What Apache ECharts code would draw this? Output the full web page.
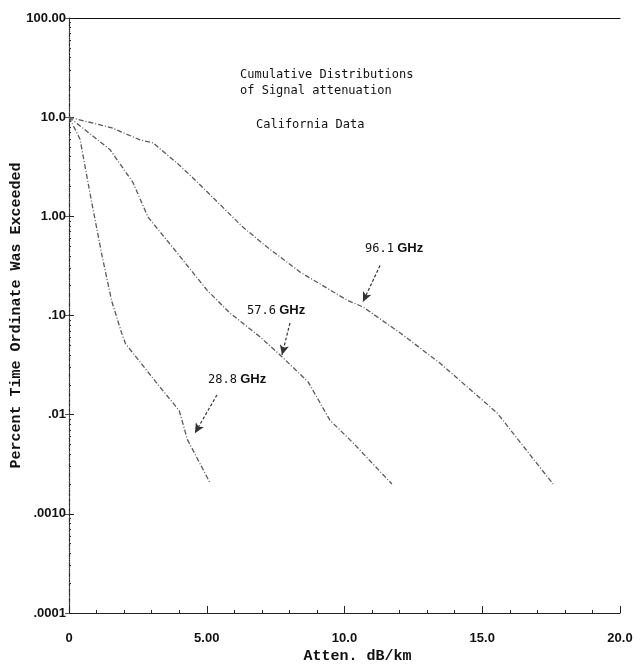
<!DOCTYPE html>
<html>
<head>
<meta charset="utf-8">
<title>Cumulative Distributions of Signal attenuation</title>
<script src="https://cdn.jsdelivr.net/npm/echarts@6/dist/echarts.min.js"></script>
<style>
  html, body { margin: 0; padding: 0; background: #fff; }
  #attenStat { width: 641px; height: 670px; }
</style>
</head>
<body>
<div id="attenStat"></div>
<script>
// 刻度标签
var xTickLabels = ['0', '5.00', '10.0', '15.0', '20.0'];
var yTickValues = [0.0001, 0.001, 0.01, 0.1, 1, 10, 100];
var yTickLabels = ['.0001', '.0010', '.01', '.10', '1.00', '10.0', '100.00'];

// 28.8 GHz
var atten288 = [0, 0.4, 0.8, 1.2, 1.55, 1.9, 2.05, 3.3, 4.0, 4.3, 5.1];
var pct288 = [10, 6, 1.5, 0.4, 0.14, 0.068, 0.052, 0.019, 0.011, 0.0056, 0.0021];

// 57.6 GHz
var atten576 = [0, 1.49, 2.32, 2.87, 3.92, 5.01, 5.84, 6.93, 7.66, 8.68, 9.47, 10.31, 11.72];
var pct576 = [10, 4.7, 2.2, 0.98, 0.43, 0.18, 0.106, 0.061, 0.040, 0.0214, 0.0088, 0.0052, 0.0020];

// 96.1 GHz
var atten961 = [0, 1.56, 2.58, 3.05, 3.92, 4.5, 6.31, 7.19, 8.38, 10.09, 10.67, 12.01, 13.47, 15.54, 17.57];
var pct961 = [10, 7.8, 5.9, 5.5, 3.45, 2.44, 0.78, 0.49, 0.275, 0.143, 0.122, 0.067, 0.033, 0.0104, 0.0020];

// 箭头 (起点, 终点)
var arrow961 = [[11.29, 0.32], [10.67, 0.137]];
var arrow576 = [[8.02, 0.084], [7.73, 0.040]];
var arrow288 = [[5.37, 0.0158], [4.57, 0.0065]];

function pairs(xs, ys) {
    return xs.map(function (x, i) { return [x, ys[i]]; });
}

function curve(name, xs, ys, arrow) {
    return {
        name: name,
        type: 'line',
        data: pairs(xs, ys),
        symbol: 'none',
        smooth: false,
        lineStyle: { color: '#5a5a5a', width: 1.3, type: [5, 2, 1, 2] },
        markLine: {
            silent: true,
            symbol: ['none', 'arrow'],
            symbolSize: [7, 10],
            label: { show: false },
            lineStyle: { color: '#333', width: 1.2, type: [3, 2] },
            data: [[{ coord: arrow[0] }, { coord: arrow[1] }]]
        }
    };
}

function attenEcharts() {
    var myChart = echarts.init(document.getElementById('attenStat'));

    var monoFont = '"DejaVu Sans Mono", monospace';
    var tickFont = { fontFamily: '"Liberation Sans", Arial, sans-serif', fontWeight: 'bold', fontSize: 13, color: '#111' };

    function ghzLabel(freq, left, top) {
        return {
            type: 'text',
            left: left,
            top: top,
            style: {
                text: '{n|' + freq + '} {g|GHz}',
                rich: {
                    n: { fontFamily: monoFont, fontSize: 12, fill: '#111' },
                    g: { fontFamily: '"Liberation Sans", Arial, sans-serif', fontWeight: 'bold', fontSize: 13, fill: '#111' }
                }
            }
        };
    }

    var option = {
        animation: false,
        backgroundColor: '#fff',
        grid: { left: 69, right: 21, top: 18, bottom: 57, containLabel: false, outerBoundsMode: 'none' },
        xAxis: [{
            type: 'value',
            min: 0,
            max: 20,
            interval: 5,
            name: 'Atten. dB/km',
            nameLocation: 'middle',
            nameGap: 36,
            nameMoveOverlap: false,
            nameTextStyle: { fontFamily: '"Liberation Mono", monospace', fontWeight: 'bold', fontSize: 15, color: '#111', padding: [0, 0, 0, 26] },
            axisLine: { lineStyle: { color: '#222', width: 1.2 } },
            axisTick: { inside: true, length: 7, lineStyle: { color: '#222' } },
            minorTick: { show: true, splitNumber: 5, length: 3, lineStyle: { color: '#222' } },
            splitLine: { show: false },
            axisLabel: Object.assign({
                margin: 19,
                formatter: function (v) { return xTickLabels[Math.round(v / 5)]; }
            }, tickFont)
        }, {
            type: 'value',
            position: 'top',
            min: 0,
            max: 20,
            axisLine: { show: true, lineStyle: { color: '#111', width: 1.2 } },
            axisTick: { show: false },
            axisLabel: { show: false },
            splitLine: { show: false }
        }],
        yAxis: [{
            type: 'log',
            logBase: 10,
            min: 0.0001,
            max: 100,
            name: 'Percent Time Ordinate Was Exceeded',
            nameLocation: 'middle',
            nameGap: 45,
            nameMoveOverlap: false,
            nameTextStyle: { fontFamily: '"Liberation Mono", monospace', fontWeight: 'bold', fontSize: 15, color: '#111' },
            axisLine: { show: true, lineStyle: { color: '#222', width: 1.2, type: [6, 1, 1, 1] } },
            axisTick: { inside: true, length: 5, lineStyle: { color: '#222' } },
            minorTick: { show: true, splitNumber: 9, length: 2, lineStyle: { color: '#333' } },
            splitLine: { show: false },
            axisLabel: Object.assign({
                margin: 3,
                formatter: function (v) {
                    var i = yTickValues.findIndex(function (t) { return Math.abs(Math.log10(t) - Math.log10(v)) < 1e-6; });
                    return i >= 0 ? yTickLabels[i] : '';
                }
            }, tickFont)
        }, {
            type: 'log',
            logBase: 10,
            position: 'right',
            min: 0.0001,
            max: 100,
            axisLine: { show: true, lineStyle: { color: '#555', width: 1, type: [1, 4] } },
            axisTick: { show: true, inside: true, length: 4, lineStyle: { color: '#555' } },
            axisLabel: { show: false },
            splitLine: { show: false }
        }],
        series: [
            curve('28.8 GHz', atten288, pct288, arrow288),
            curve('57.6 GHz', atten576, pct576, arrow576),
            curve('96.1 GHz', atten961, pct961, arrow961)
        ],
        graphic: [
            {
                type: 'text', left: 240, top: 67,
                style: { text: 'Cumulative Distributions\nof Signal attenuation', fontFamily: monoFont, fontSize: 12, lineHeight: 16, fill: '#111' }
            },
            {
                type: 'text', left: 256, top: 119,
                style: { text: 'California Data', fontFamily: monoFont, fontSize: 12, fill: '#111' }
            },
            ghzLabel('96.1', 365, 242),
            ghzLabel('57.6', 247, 304),
            ghzLabel('28.8', 208, 373)
        ]
    };

    myChart.setOption(option);
}

attenEcharts();
</script>
</body>
</html>
